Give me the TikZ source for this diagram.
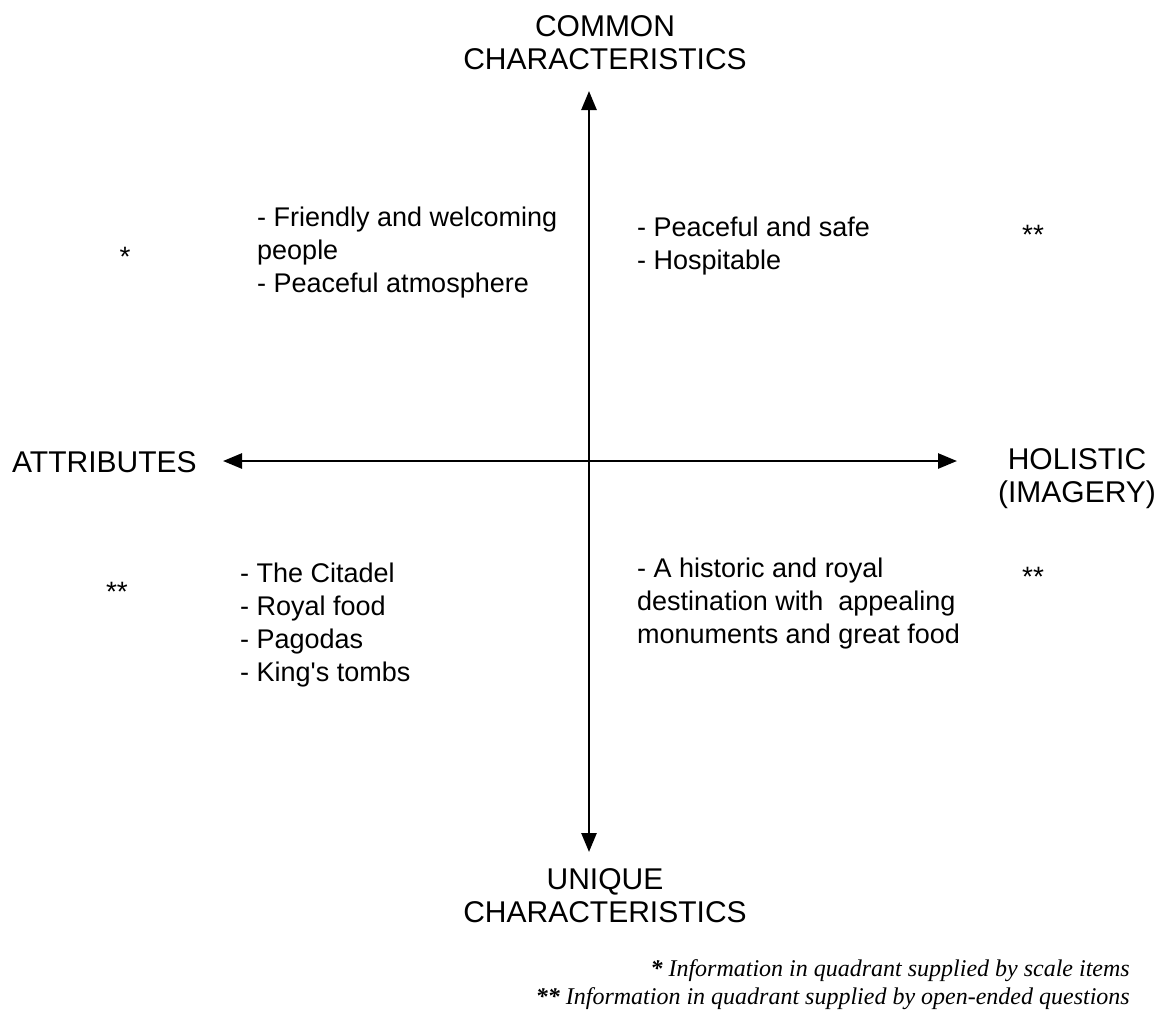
\documentclass[tikz,border=0pt]{standalone}
\usepackage{fontspec}
\setmainfont{Liberation Sans}
\newfontfamily\notefont{Liberation Serif}
\usetikzlibrary{arrows.meta}

\begin{document}
\begin{tikzpicture}[x=1pt,y=-1pt,
    axis/.style={line width=2.6pt,{Triangle[width=15pt,length=19pt]}-{Triangle[width=15pt,length=19pt]}},
    pole/.style={font=\fontsize{30}{33}\selectfont,align=center,inner sep=0pt},
    items/.style={font=\fontsize{27}{33}\selectfont,align=left,inner sep=0pt,anchor=base west},
    star/.style={font=\fontsize{28}{33}\selectfont,inner sep=0pt}]

  \useasboundingbox (0,0) rectangle (1167,1010);

  % the four poles (base = last line)
  \node[pole,anchor=base] (common) at (605,69) {COMMON\\CHARACTERISTICS};
  \node[pole,anchor=base] (unique) at (605,922) {UNIQUE\\CHARACTERISTICS};
  \node[pole,anchor=west] (attr) at (12,462) {ATTRIBUTES};
  \node[pole,anchor=base] (holistic) at (1077,502) {HOLISTIC\\(IMAGERY)};

  % axes
  \coordinate (top) at (589,91);
  \coordinate (bottom) at (589,852);
  \coordinate (left) at (223,461);
  \coordinate (right) at (957,461);
  \draw[axis] (bottom) -- (top);
  \draw[axis] (left) -- (right);

  % quadrant contents
  \node[items] (tl) at (257,292) {- Friendly and welcoming\\people\\- Peaceful atmosphere};
  \node[items] (tr) at (637,269) {- Peaceful and safe\\- Hospitable};
  \node[items] (bl) at (240,681) {- The Citadel\\- Royal food\\- Pagodas\\- King\textquotesingle s tombs};
  \node[items] (br) at (637,643) {- A historic and royal\\destination with\ \ appealing\\monuments and great food};

  % source markers
  \node[star] (tlstar) at (125,257) {*};
  \node[star] (trstar) at (1033,235) {**};
  \node[star] (blstar) at (117,592) {**};
  \node[star] (brstar) at (1033,577) {**};

  % key
  \node[font=\notefont\itshape\fontsize{24}{28}\selectfont,align=right,inner sep=0pt,anchor=base east] (key) at (1130,1004)
    {\textbf{*} Information in quadrant supplied by scale items\\
     \textbf{**} Information in quadrant supplied by open-ended questions};

\end{tikzpicture}
\end{document}
